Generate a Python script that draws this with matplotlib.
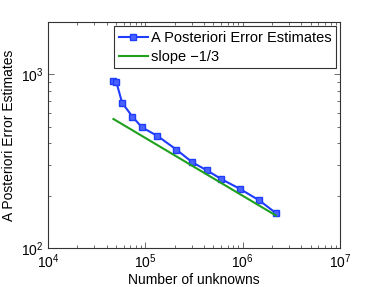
import numpy as np
import matplotlib
matplotlib.use("Agg")
import matplotlib.pyplot as plt

plt.rcParams['font.family'] = ['Liberation Sans', 'DejaVu Sans']

# values
unknowns = [47000, 50400, 57700, 73700, 92600, 133000, 209000, 305000,
            428000, 606000, 936000, 1480000, 2190000]
estimates = [920, 900, 686, 570, 494, 442, 368, 311, 280, 249, 219, 188, 159]

slope_x = [47000, 2190000]
slope_y = [553, 154]

fig = plt.figure(figsize=(3.74, 2.87), dpi=100)
ax = fig.add_axes([48/374, 1 - 248/287, 292/374, 226/287])

ax.loglog(unknowns, estimates, color='#1f3cff', lw=1.5, marker='s', ms=4,
          mfc='#4a63ff', mec='#1f3cff', mew=1.0,
          label='A Posteriori Error Estimates')
ax.loglog(slope_x, slope_y, color='#1fa01f', lw=1.5, label='slope \u22121/3')

ax.set_xlim(1e4, 1e7)
ax.set_ylim(1e2, 2e3)
ax.set_xlabel('Number of unknowns', fontsize=10, labelpad=1)
ax.set_ylabel('A Posteriori Error Estimates', fontsize=10)
ax.yaxis.set_label_coords(-32/292, 0.5)
ax.tick_params(which='both', direction='in', top=True, right=True,
               labelsize=10, width=0.5, color='#333333')
ax.tick_params(which='major', length=4)
ax.tick_params(which='minor', length=2)
for s in ax.spines.values():
    s.set_linewidth(0.8)
    s.set_color('#333333')

leg = ax.legend(loc='upper right', fontsize=10.5, handlelength=2.0,
                handletextpad=0.2, borderpad=0.3, labelspacing=0.35,
                borderaxespad=0.3, fancybox=False, framealpha=1)
leg.get_frame().set_edgecolor('#333333')
leg.get_frame().set_linewidth(0.8)

fig.savefig('out.png', dpi=100)
